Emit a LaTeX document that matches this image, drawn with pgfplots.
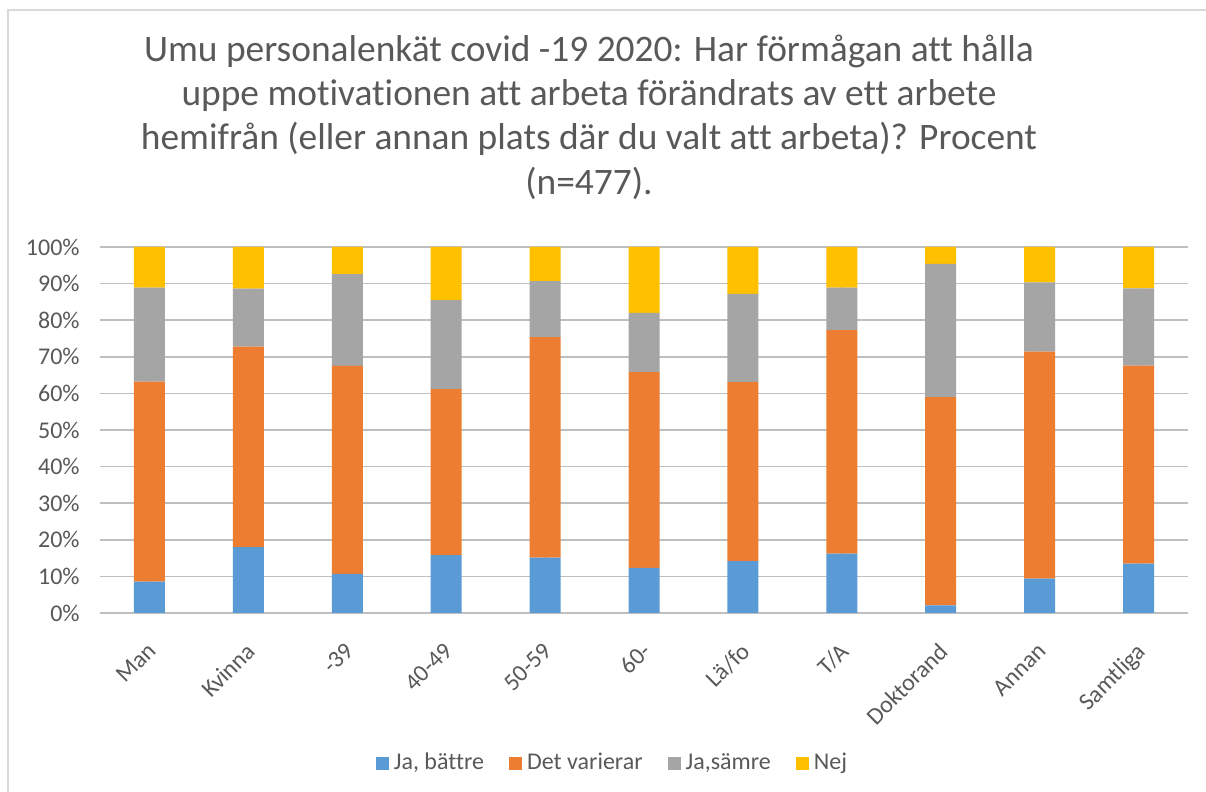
\documentclass[border=0pt]{standalone}
\usepackage{pgfplots}
\pgfplotsset{compat=1.18}
\usepackage{fontspec}
\setmainfont{Carlito}[Ligatures={NoCommon}]
\definecolor{cblue}{HTML}{5B9BD5}
\definecolor{corange}{HTML}{ED7D31}
\definecolor{cgray}{HTML}{A5A5A5}
\definecolor{cyellow}{HTML}{FFC000}
\definecolor{txt}{HTML}{595959}
\definecolor{grid}{HTML}{D9D9D9}
\begin{document}
\begin{tikzpicture}
\useasboundingbox (0,0) rectangle (603pt,396pt);
\fill[white] (0,0) rectangle (603pt,396pt);
\draw[grid, line width=0.8pt] (4pt,0) -- (4pt,391pt) -- (603pt,391pt);
\begin{scope}[every node/.style={font=\fontsize{18.7pt}{22.3pt}\selectfont, text=txt, anchor=base, inner sep=0pt}]
\node at (294.5pt,365pt) {Umu personalenkät covid -19 2020: Har förmågan att hålla};
\node at (294.5pt,343pt) {uppe motivationen att arbeta förändrats av ett arbete};
\node at (294.5pt,321pt) {hemifrån (eller annan plats där du valt att arbeta)? Procent};
\node at (294.5pt,298.5pt) {(n=477).};
\end{scope}
\begin{axis}[
  at={(50pt,89.5pt)}, anchor=south west,
  scale only axis, width=544pt, height=183pt,
  ybar stacked, bar width=15.5pt,
  xmin=-0.5, xmax=10.5, ymin=0, ymax=100,
  xtick={0,...,10},
  xticklabels={Man,Kvinna,-39,40-49,50-59,60-,Lä/fo,T/A,Doktorand,Annan,Samtliga},
  ytick={0,10,...,100},
  yticklabel={\pgfmathprintnumber{\tick}\%},
  /pgf/number format/assume math mode=true,
  ymajorgrids, grid style={grid, line width=0.8pt},
  axis line style={draw=none},
  major tick length=0pt,
  tick label style={font=\fontsize{12pt}{14pt}\selectfont, text=txt},
  yticklabel style={anchor=east, inner sep=0pt, xshift=-10pt},
  xticklabel style={rotate=45, anchor=north east, inner sep=0pt, xshift=-11pt, yshift=-8.7pt},
  legend columns=4,
  legend style={draw=none, fill=none, at={(0.4724,-0.41)}, anchor=center,
    font=\fontsize{12pt}{14pt}\selectfont, text=txt,
    nodes={inner sep=2.5pt},
    /tikz/every even column/.append style={column sep=10pt}},
  legend image code/.code={\fill[#1] (0pt,-3.25pt) rectangle (6.5pt,3.25pt);},
]
\addplot[fill=cblue, draw=none] coordinates {(0,8.6) (1,18.0) (2,10.7) (3,15.8) (4,15.1) (5,12.3) (6,14.2) (7,16.2) (8,2.1) (9,9.4) (10,13.5)};
\addplot[fill=corange, draw=none] coordinates {(0,54.6) (1,54.8) (2,56.8) (3,45.4) (4,60.3) (5,53.5) (6,48.9) (7,61.1) (8,56.9) (9,62.0) (10,54.1)};
\addplot[fill=cgray, draw=none] coordinates {(0,25.7) (1,15.8) (2,25.1) (3,24.3) (4,15.3) (5,16.2) (6,24.1) (7,11.6) (8,36.4) (9,18.9) (10,21.1)};
\addplot[fill=cyellow, draw=none] coordinates {(0,11.1) (1,11.4) (2,7.4) (3,14.5) (4,9.3) (5,18.0) (6,12.8) (7,11.1) (8,4.6) (9,9.7) (10,11.3)};
\legend{Ja{,} bättre, Det varierar, Ja{,}sämre, Nej}
\end{axis}
\end{tikzpicture}
\end{document}
